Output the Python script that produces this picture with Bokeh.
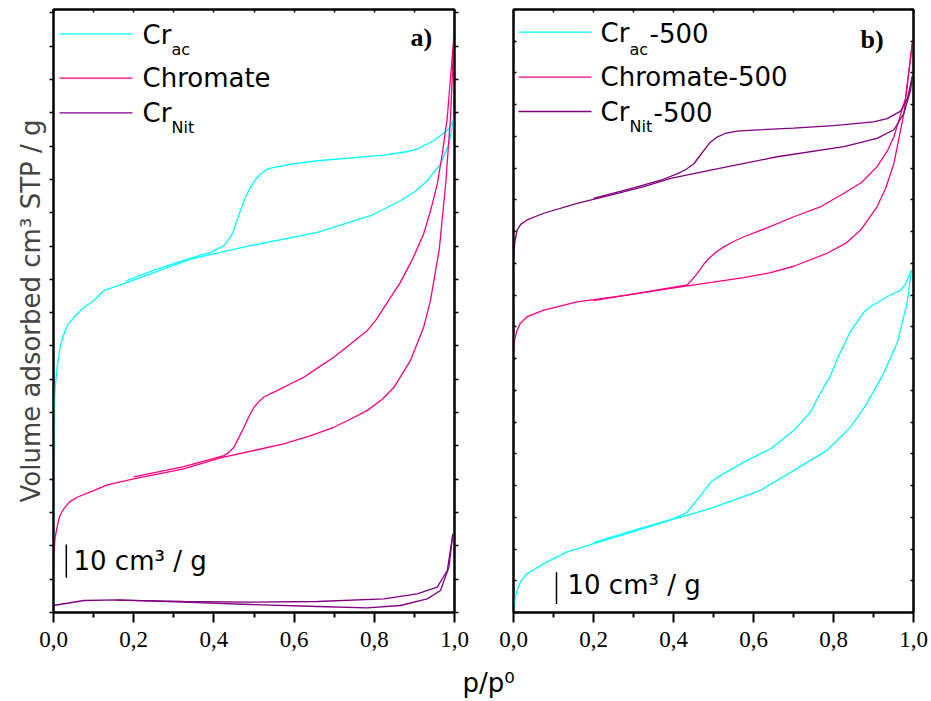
import numpy as np
from bokeh.plotting import figure
from bokeh.models import (Range1d, LinearAxis, FixedTicker, CustomJSTickFormatter,
                          Label, Arrow)
from bokeh.layouts import row, column
from bokeh.embed import file_html
from bokeh.resources import INLINE

CYAN = "#00FFFF"
PINK = "#FF0080"
PURPLE = "#800080"

# ---------------- panel a) ----------------
crac_ads_x = [0.0, 0.001, 0.0015, 0.004, 0.009, 0.016, 0.026, 0.036, 0.051, 0.075, 0.1, 0.125, 0.184, 0.342, 0.491, 0.658, 0.791, 0.865, 0.9, 0.932, 0.965, 0.986, 0.998]
crac_ads_y = [8.7, 53.7, 60.0, 67.0, 73.6, 79.5, 83.6, 86.5, 88.6, 91.5, 93.6, 96.6, 99.1, 106.1, 110.1, 114.1, 119.1, 123.6, 126.2, 129.6, 134.6, 140.6, 148.1]
crac_des_x = [0.998, 0.986, 0.948, 0.907, 0.88, 0.824, 0.658, 0.6, 0.55, 0.533, 0.516, 0.505, 0.491, 0.478, 0.466, 0.455, 0.446, 0.425, 0.392, 0.342, 0.25, 0.18]
crac_des_y = [148.1, 145.1, 141.6, 139.1, 138.3, 137.3, 135.6, 134.7, 133.6, 133.1, 131.6, 130.2, 127.6, 124.5, 120.6, 116.8, 113.6, 110.1, 108.1, 106.4, 102.8, 99.5]

chr_ads_x = [0.0, 0.001, 0.004, 0.009, 0.015, 0.026, 0.04, 0.059, 0.1, 0.134, 0.2, 0.325, 0.416, 0.574, 0.64, 0.699, 0.74, 0.782, 0.82, 0.849, 0.890, 0.923, 0.940, 0.962, 0.978, 0.990, 0.999]
chr_ads_y = [10.5, 17.7, 22.5, 25.6, 28.8, 31.2, 33.2, 34.6, 36.6, 38.3, 40.1, 43.1, 46.4, 50.6, 53.0, 55.6, 58.0, 60.6, 64.0, 67.6, 75.6, 85.6, 93.6, 109.0, 128.7, 148.5, 173.7]
chr_des_x = [0.999, 0.982, 0.97, 0.957, 0.94, 0.923, 0.895, 0.865, 0.803, 0.782, 0.74, 0.699, 0.66, 0.624, 0.59, 0.558, 0.54, 0.524, 0.512, 0.500, 0.488, 0.475, 0.462, 0.450, 0.437, 0.425, 0.325, 0.2]
chr_des_y = [173.7, 148.6, 138.0, 128.6, 120.5, 113.6, 106.0, 99.1, 87.6, 84.6, 80.5, 76.6, 73.5, 70.6, 68.6, 66.6, 65.6, 64.6, 63.3, 61.6, 59.0, 55.6, 52.5, 49.6, 48.0, 47.1, 43.8, 40.7]

nit_ads_x = [0.0, 0.076, 0.159, 0.324, 0.491, 0.658, 0.782, 0.865, 0.932, 0.965, 0.986, 0.996]
nit_ads_y = [2.1, 3.6, 3.8, 3.1, 2.4, 1.8, 1.4, 2.1, 4.1, 6.6, 13.6, 23.6]
nit_des_x = [0.996, 0.982, 0.957, 0.907, 0.824, 0.658, 0.491, 0.324, 0.159]
nit_des_y = [23.6, 12.6, 7.6, 5.6, 4.1, 3.3, 3.1, 3.3, 3.7]

# ---------------- panel b) ----------------
crac5_ads_x = [0.0, 0.003, 0.009, 0.018, 0.034, 0.076, 0.134, 0.201, 0.326, 0.401, 0.493, 0.618, 0.701, 0.784, 0.843, 0.884, 0.926, 0.959, 0.984, 0.995]
crac5_ads_y = [0.6, 3.8, 6.9, 9.8, 12.2, 15.4, 19.1, 21.7, 26.5, 29.4, 32.8, 38.5, 44.8, 51.1, 58.5, 66.0, 75.5, 84.9, 97.5, 107.9]
crac5_des_x = [0.995, 0.98, 0.968, 0.934, 0.893, 0.875, 0.859, 0.842, 0.826, 0.81, 0.793, 0.76, 0.743, 0.701, 0.643, 0.576, 0.518, 0.493, 0.468, 0.434, 0.401, 0.3, 0.2]
crac5_des_y = [107.9, 103.5, 101.6, 99.5, 96.4, 94.5, 91.6, 88.5, 84.3, 80.0, 74.8, 67.5, 63.2, 57.4, 51.6, 47.4, 43.2, 41.1, 36.9, 31.6, 29.6, 25.9, 22.0]

chr5_ads_x = [0.0, 0.003, 0.009, 0.017, 0.034, 0.076, 0.159, 0.284, 0.418, 0.576, 0.64, 0.701, 0.784, 0.83, 0.868, 0.909, 0.93, 0.951, 0.976, 0.993, 0.997]
chr5_ads_y = [82.6, 86.2, 88.9, 91.1, 93.2, 95.3, 97.9, 100.0, 102.6, 105.5, 107.0, 109.1, 113.2, 116.3, 120.5, 127.9, 133.5, 141.5, 157.3, 175.2, 179.4]
chr5_des_x = [0.997, 0.98, 0.951, 0.935, 0.909, 0.87, 0.826, 0.77, 0.701, 0.64, 0.576, 0.55, 0.526, 0.51, 0.493, 0.476, 0.459, 0.446, 0.434, 0.35, 0.2]
chr5_des_y = [179.4, 162.0, 149.9, 145.5, 140.5, 135.5, 132.1, 128.0, 124.7, 121.5, 118.4, 116.9, 115.2, 113.9, 112.1, 109.8, 106.8, 104.8, 103.2, 101.4, 98.3]

nit5_ads_x = [0.0, 0.003, 0.009, 0.018, 0.034, 0.076, 0.159, 0.243, 0.326, 0.393, 0.493, 0.659, 0.826, 0.909, 0.951, 0.976, 0.993, 0.997]
nit5_ads_y = [110.4, 116.5, 120.5, 122.3, 123.7, 125.8, 128.9, 131.5, 134.2, 136.8, 139.4, 143.6, 146.8, 149.4, 152.1, 157.3, 164.7, 168.9]
nit5_des_x = [0.997, 0.985, 0.968, 0.934, 0.9, 0.8, 0.7, 0.6, 0.559, 0.53, 0.509, 0.49, 0.476, 0.464, 0.451, 0.43, 0.409, 0.368, 0.3, 0.2]
nit5_des_y = [168.9, 162.0, 158.0, 155.6, 154.6, 153.4, 152.6, 152.0, 151.7, 151.0, 149.8, 147.9, 145.6, 143.6, 141.4, 139.5, 138.2, 136.2, 133.8, 130.5]

x_major = [0.0, 0.2, 0.4, 0.6, 0.8, 1.0]
x_minor = [0.1, 0.3, 0.5, 0.7, 0.9]
x_top = [0.0, 0.1, 0.2, 0.3, 0.4, 0.5, 0.6, 0.7, 0.8, 0.9, 1.0]
y_ticks = list(range(0, 200, 10))
scale_bar_len = 10

SANS = "DejaVu Sans"
SERIF = "Liberation Serif"
LW = 1.3


def make_panel(width, ymax, mb_left, mb_right, ytick_in, ytick_out):
    p = figure(width=width, height=661, x_range=Range1d(0, 1), y_range=Range1d(0, ymax),
               min_border_left=mb_left, min_border_right=mb_right, min_border_top=9,
               min_border_bottom=49, toolbar_location=None, output_backend="svg",
               background_fill_color="white", border_fill_color="white")
    p.grid.visible = False
    p.outline_line_color = "black"
    p.outline_line_width = 2
    xa = p.below[0]
    xa.ticker = FixedTicker(ticks=x_major, minor_ticks=x_minor)
    xa.formatter = CustomJSTickFormatter(code="return tick.toFixed(1).replace('.', ',');")
    xa.major_label_text_font = SERIF
    xa.major_label_text_font_size = "23px"
    xa.major_label_text_color = "black"
    xa.major_label_standoff = 9
    xa.axis_line_width = 2
    xa.major_tick_out = 10
    xa.major_tick_in = 0
    xa.minor_tick_out = 5
    xa.minor_tick_in = 0
    xa.major_tick_line_width = 2
    xa.minor_tick_line_width = 2

    ya = p.left[0]
    ya.ticker = FixedTicker(ticks=y_ticks, minor_ticks=[])
    ya.formatter = CustomJSTickFormatter(code="return '';")
    ya.major_label_standoff = 0
    ya.axis_line_width = 2
    ya.major_tick_in = ytick_in
    ya.major_tick_out = ytick_out
    ya.major_tick_line_width = 1.5

    top = LinearAxis(ticker=FixedTicker(ticks=x_top, minor_ticks=[]),
                     formatter=CustomJSTickFormatter(code="return '';"),
                     major_tick_in=3, major_tick_out=0, axis_line_width=2,
                     major_tick_line_width=1.5, major_label_standoff=0)
    p.add_layout(top, "above")
    right = LinearAxis(ticker=FixedTicker(ticks=y_ticks, minor_ticks=[]),
                       formatter=CustomJSTickFormatter(code="return '';"),
                       major_tick_in=ytick_in, major_tick_out=ytick_out, axis_line_width=2,
                       major_tick_line_width=1.5, major_label_standoff=0)
    p.add_layout(right, "right")
    return p


def txt(p, x, y, text, size, font=SANS, style="normal"):
    # y is the intended baseline; Label text is drawn slightly lower, so lift it
    p.add_layout(Label(x=x, y=y + 0.4 * size, x_units="screen", y_units="screen", text=text,
                       text_font=font, text_font_size=f"{size}px", text_font_style=style,
                       text_baseline="alphabetic", text_align="left", text_color="black"))


def legline(p, x0, x1, y, color):
    p.add_layout(Arrow(end=None, x_start=x0, y_start=y, x_end=x1, y_end=y,
                       start_units="screen", end_units="screen",
                       line_color=color, line_width=LW))


# ---- panel a ----
p1 = make_panel(483, 181, 53, 29, 0, 4)
ya = p1.left[0]
ya.axis_label = "Volume adsorbed cm³ STP / g"
ya.axis_label_text_font = SANS
ya.axis_label_text_font_size = "26px"
ya.axis_label_text_font_style = "normal"
ya.axis_label_standoff = 4

for xs, ys, c in [(crac_ads_x, crac_ads_y, CYAN), (crac_des_x, crac_des_y, CYAN),
                  (chr_ads_x, chr_ads_y, PINK), (chr_des_x, chr_des_y, PINK),
                  (nit_ads_x, nit_ads_y, PURPLE), (nit_des_x, nit_des_y, PURPLE)]:
    p1.line(xs, ys, line_color=c, line_width=LW)

legline(p1, 6, 79, 578.7, CYAN)
legline(p1, 6, 79, 534.3, PINK)
legline(p1, 6, 79, 499.7, PURPLE)
txt(p1, 89, 567, "Cr", 26)
txt(p1, 118, 557, "ac", 16)
txt(p1, 89, 523.7, "Chromate", 26)
txt(p1, 89, 489, "Cr", 26)
txt(p1, 118, 478.7, "Nit", 16)
txt(p1, 357, 565, "a)", 26, SERIF, "bold")
p1.segment(x0=[0.032], y0=[10.4], x1=[0.032], y1=[10.4 + scale_bar_len],
           line_color="black", line_width=1.5)
txt(p1, 20, 41.3, "10 cm³ / g", 26)

# ---- panel b ----
p2 = make_panel(448, 190, 30, 18, 3, 0)
for xs, ys, c in [(crac5_ads_x, crac5_ads_y, CYAN), (crac5_des_x, crac5_des_y, CYAN),
                  (chr5_ads_x, chr5_ads_y, PINK), (chr5_des_x, chr5_des_y, PINK),
                  (nit5_ads_x, nit5_ads_y, PURPLE), (nit5_des_x, nit5_des_y, PURPLE)]:
    p2.line(xs, ys, line_color=c, line_width=LW)

legline(p2, 5, 78, 580.3, CYAN)
legline(p2, 5, 78, 535.3, PINK)
legline(p2, 5, 78, 501, PURPLE)
txt(p2, 87, 568.7, "Cr", 26)
txt(p2, 116, 557, "ac", 16)
txt(p2, 136, 568.7, "-500", 26)
txt(p2, 87, 524.7, "Chromate-500", 26)
txt(p2, 87, 490.3, "Cr", 26)
txt(p2, 116, 479.3, "Nit", 16)
txt(p2, 140, 490.3, "-500", 26)
txt(p2, 347, 563, "b)", 26, SERIF, "bold")
p2.segment(x0=[0.1075], y0=[2.7], x1=[0.1075], y1=[2.7 + scale_bar_len],
           line_color="black", line_width=1.5)
txt(p2, 54, 17, "10 cm³ / g", 26)

# ---- shared x label ----
p3 = figure(width=931, height=40, x_range=Range1d(0, 931), y_range=Range1d(0, 40),
            min_border=0, toolbar_location=None, output_backend="svg",
            x_axis_location=None, y_axis_location=None, outline_line_color=None)
p3.grid.visible = False
p3.add_layout(Label(x=488, y=19, x_units="screen", y_units="screen", text="p/p⁰",
                    text_font=SANS, text_font_size="26px", text_align="center",
                    text_baseline="alphabetic", text_color="black"))

layout = column(row(p1, p2), p3)
open("out.html", "w").write(file_html(layout, INLINE))
